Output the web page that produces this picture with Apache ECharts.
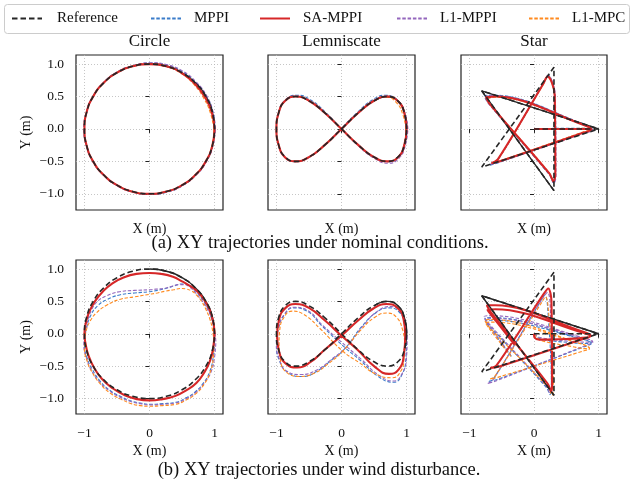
<!DOCTYPE html>
<html>
<head>
<meta charset="utf-8">
<script src="https://cdn.jsdelivr.net/npm/echarts@6/dist/echarts.min.js"></script>
<style>
  html, body { margin: 0; padding: 0; background: #fff; }
  #chart { width: 632px; height: 483px; }
</style>
</head>
<body>
<div id="chart"></div>
<script>
// tick values and labels
const xTicks = [-1, 0, 1]
const yTicks = [-1, -0.5, 0, 0.5, 1]
const panelTitles = ['Circle', 'Lemniscate', 'Star']
const captions = ['(a) XY trajectories under nominal conditions.', '(b) XY trajectories under wind disturbance.']
const methods = ['Reference', 'MPPI', 'SA-MPPI', 'L1-MPPI', 'L1-MPC']

// reference paths
const circleRef = [[1,0],[0.966,0.259],[0.866,0.5],[0.707,0.707],[0.5,0.866],[0.259,0.966],[0,1],[-0.259,0.966],[-0.5,0.866],[-0.707,0.707],[-0.866,0.5],[-0.966,0.259],[-1,0],[-0.966,-0.259],[-0.866,-0.5],[-0.707,-0.707],[-0.5,-0.866],[-0.259,-0.966],[0,-1],[0.259,-0.966],[0.5,-0.866],[0.707,-0.707],[0.866,-0.5],[0.966,-0.259],[1,0]]
const circleRefLap2 = [[1,0],[0.966,0.259],[0.866,0.5],[0.707,0.707],[0.5,0.866],[0.259,0.966],[0,1]]
const lemRef = [[1,0],[0.966,0.25],[0.866,0.433],[0.707,0.5],[0.5,0.433],[0.259,0.25],[0,0],[-0.259,-0.25],[-0.5,-0.433],[-0.707,-0.5],[-0.866,-0.433],[-0.966,-0.25],[-1,0],[-0.966,0.25],[-0.866,0.433],[-0.707,0.5],[-0.5,0.433],[-0.259,0.25],[0,0],[0.259,-0.25],[0.5,-0.433],[0.707,-0.5],[0.866,-0.433],[0.966,-0.25],[1,0]]
const lemRefLap2 = [[0.966,-0.25],[1,0],[0.966,0.25],[0.866,0.433],[0.707,0.5],[0.5,0.433]]
const starRef = [[0,0],[1,0],[-0.809,0.588],[0.309,-0.951],[0.309,0.951],[-0.809,-0.588],[1,0]]
const starRefLap2 = [[1,0],[-0.809,0.588],[0.309,-0.951]]

// nominal conditions
const circleNomMPPI = [[1.01,0],[0.975,0.262],[0.875,0.505],[0.715,0.715],[0.51,0.88],[0.265,0.985],[0.01,1.015],[-0.262,0.975],[-0.505,0.875],[-0.71,0.71],[-0.87,0.503],[-0.97,0.26],[-1.01,0],[-0.97,-0.26],[-0.87,-0.503],[-0.71,-0.71],[-0.503,-0.87],[-0.26,-0.97],[0.005,-1.01],[0.262,-0.975],[0.505,-0.875],[0.712,-0.712],[0.872,-0.503],[0.972,-0.26],[1.01,0]]
const circleNomSA = [[1.0,0],[0.958,0.256],[0.852,0.492],[0.697,0.697],[0.497,0.862],[0.258,0.965],[0,1.0],[-0.259,0.966],[-0.5,0.867],[-0.708,0.707],[-0.866,0.501],[-0.966,0.26],[-1.0,0],[-0.966,-0.259],[-0.867,-0.5],[-0.707,-0.708],[-0.5,-0.866],[-0.259,-0.967],[0,-1.0],[0.259,-0.966],[0.501,-0.866],[0.708,-0.707],[0.866,-0.5],[0.966,-0.259],[1.0,0]]
const circleNomL1MPPI = [[1.01,0.01],[0.975,0.265],[0.88,0.51],[0.72,0.72],[0.515,0.89],[0.27,0.99],[0.02,1.02],[-0.26,0.97],[-0.502,0.87],[-0.71,0.71],[-0.868,0.502],[-0.968,0.26],[-1.0,0],[-0.968,-0.26],[-0.87,-0.502],[-0.71,-0.71],[-0.505,-0.872],[-0.262,-0.972],[0,-1.01],[0.262,-0.972],[0.505,-0.875],[0.715,-0.712],[0.875,-0.505],[0.975,-0.262],[1.01,0.01]]
const circleNomL1MPC = [[0.99,0],[0.935,0.25],[0.83,0.48],[0.68,0.69],[0.49,0.855],[0.258,0.962],[0,1.0],[-0.26,0.966],[-0.5,0.866],[-0.707,0.707],[-0.866,0.5],[-0.966,0.259],[-1.0,0],[-0.966,-0.259],[-0.866,-0.5],[-0.707,-0.707],[-0.5,-0.866],[-0.259,-0.966],[0,-1.0],[0.259,-0.966],[0.5,-0.866],[0.707,-0.707],[0.862,-0.5],[0.96,-0.258],[0.99,0]]

const lemNomMPPI = [[1.01,0],[0.97,0.25],[0.86,0.44],[0.68,0.52],[0.48,0.45],[0.25,0.26],[0,0.01],[-0.26,-0.25],[-0.50,-0.44],[-0.71,-0.505],[-0.87,-0.44],[-0.965,-0.25],[-1.0,0],[-0.965,0.26],[-0.86,0.45],[-0.68,0.52],[-0.48,0.45],[-0.25,0.26],[0,0],[0.26,-0.25],[0.50,-0.44],[0.71,-0.505],[0.875,-0.44],[0.97,-0.25],[1.01,0]]
const lemNomSA = [[1.0,0],[0.965,0.25],[0.865,0.43],[0.705,0.50],[0.50,0.435],[0.26,0.25],[0,0],[-0.26,-0.25],[-0.50,-0.435],[-0.71,-0.50],[-0.87,-0.435],[-0.965,-0.25],[-1.0,0],[-0.965,0.25],[-0.865,0.435],[-0.70,0.50],[-0.50,0.435],[-0.26,0.25],[0,0],[0.26,-0.25],[0.50,-0.435],[0.71,-0.50],[0.87,-0.435],[0.965,-0.25],[1.0,0]]
const lemNomL1MPPI = [[1.02,0],[0.975,0.25],[0.87,0.435],[0.71,0.505],[0.50,0.44],[0.26,0.25],[0,0],[-0.26,-0.25],[-0.50,-0.435],[-0.71,-0.50],[-0.87,-0.435],[-0.965,-0.25],[-1.0,0],[-0.965,0.25],[-0.865,0.435],[-0.71,0.505],[-0.50,0.435],[-0.26,0.25],[0,0],[0.26,-0.26],[0.50,-0.45],[0.72,-0.53],[0.885,-0.45],[0.98,-0.26],[1.02,0]]
const lemNomL1MPC = [[0.99,0],[0.94,0.23],[0.84,0.41],[0.69,0.49],[0.49,0.43],[0.26,0.25],[0,0],[-0.26,-0.25],[-0.50,-0.435],[-0.71,-0.50],[-0.87,-0.435],[-0.965,-0.25],[-1.0,0],[-0.965,0.25],[-0.865,0.435],[-0.705,0.50],[-0.50,0.435],[-0.26,0.25],[0,0],[0.26,-0.25],[0.50,-0.435],[0.71,-0.50],[0.87,-0.435],[0.965,-0.25],[0.99,0]]

const starNomMPPI = [[0,0],[0.45,0.01],[0.80,0.01],[0.90,0.0],[0.79,0.07],[-0.62,0.52],[-0.77,0.51],[-0.71,0.40],[0.24,-0.71],[0.30,-0.83],[0.33,-0.72],[0.32,0.53],[0.22,0.83],[0.14,0.70],[-0.57,-0.49],[-0.69,-0.56],[-0.55,-0.52],[0.77,-0.06],[0.90,-0.01],[0.78,0.07],[-0.61,0.51],[-0.75,0.50]]
const starNomSA = [[0,0],[0.45,0],[0.80,0.0],[0.89,0.0],[0.78,0.06],[-0.60,0.50],[-0.74,0.49],[-0.69,0.39],[0.24,-0.69],[0.30,-0.81],[0.33,-0.70],[0.32,0.52],[0.21,0.81],[0.14,0.69],[-0.56,-0.47],[-0.66,-0.53],[-0.53,-0.50],[0.76,-0.06],[0.89,-0.01],[0.77,0.06],[-0.60,0.50],[-0.73,0.48]]
const starNomL1MPPI = [[0,0],[0.45,0],[0.81,0.0],[0.91,-0.01],[0.79,0.06],[-0.61,0.51],[-0.76,0.50],[-0.70,0.39],[0.25,-0.71],[0.31,-0.84],[0.34,-0.72],[0.33,0.52],[0.22,0.82],[0.14,0.69],[-0.56,-0.48],[-0.68,-0.55],[-0.54,-0.51],[0.77,-0.07],[0.91,-0.02],[0.78,0.06],[-0.61,0.51],[-0.75,0.49]]
const starNomL1MPC = [[0,0],[0.45,0],[0.80,0.01],[0.89,0.01],[0.77,0.07],[-0.60,0.49],[-0.73,0.47],[-0.68,0.38],[0.24,-0.68],[0.30,-0.80],[0.33,-0.69],[0.32,0.51],[0.21,0.80],[0.14,0.68],[-0.55,-0.46],[-0.65,-0.52],[-0.52,-0.49],[0.75,-0.05],[0.88,0.0],[0.76,0.07],[-0.60,0.49],[-0.72,0.47]]

// wind disturbance
const circleWindMPPI = [[1.0,-0.10],[0.99,0.08],[0.95,0.25],[0.89,0.41],[0.80,0.55],[0.71,0.66],[0.62,0.74],[0.50,0.77],[0.38,0.74],[0.25,0.70],[0.12,0.67],[0.0,0.65],[-0.23,0.63],[-0.46,0.60],[-0.65,0.53],[-0.80,0.43],[-0.90,0.29],[-0.96,0.12],[-0.99,-0.03],[-1.0,-0.17],[-0.96,-0.37],[-0.88,-0.55],[-0.76,-0.73],[-0.60,-0.88],[-0.44,-0.97],[-0.28,-1.04],[-0.14,-1.07],[0.0,-1.09],[0.20,-1.08],[0.40,-1.06],[0.56,-0.99],[0.70,-0.90],[0.83,-0.76],[0.92,-0.60],[0.98,-0.36],[1.0,-0.10]]
const circleWindSA = [[1.0,0.02],[0.98,0.18],[0.94,0.33],[0.88,0.46],[0.80,0.58],[0.72,0.67],[0.62,0.74],[0.50,0.81],[0.36,0.88],[0.18,0.925],[0.0,0.94],[-0.20,0.925],[-0.40,0.87],[-0.57,0.78],[-0.72,0.65],[-0.84,0.50],[-0.93,0.33],[-0.98,0.16],[-1.0,0.0],[-0.98,-0.17],[-0.94,-0.33],[-0.85,-0.53],[-0.73,-0.70],[-0.57,-0.84],[-0.38,-0.95],[-0.19,-1.01],[0.0,-1.03],[0.20,-1.01],[0.40,-0.96],[0.57,-0.87],[0.72,-0.76],[0.84,-0.60],[0.93,-0.42],[0.98,-0.21],[1.0,0.02]]
const circleWindL1MPPI = [[1.02,-0.12],[1.0,0.05],[0.96,0.22],[0.89,0.38],[0.80,0.52],[0.71,0.63],[0.62,0.72],[0.53,0.76],[0.45,0.76],[0.33,0.73],[0.22,0.70],[0.10,0.69],[0.0,0.68],[-0.23,0.67],[-0.46,0.65],[-0.65,0.59],[-0.80,0.50],[-0.89,0.37],[-0.95,0.20],[-0.99,0.02],[-1.01,-0.17],[-0.97,-0.37],[-0.90,-0.55],[-0.78,-0.73],[-0.62,-0.88],[-0.45,-0.98],[-0.28,-1.05],[-0.14,-1.08],[0.0,-1.10],[0.20,-1.09],[0.40,-1.07],[0.57,-1.00],[0.72,-0.90],[0.85,-0.75],[0.95,-0.58],[1.0,-0.36],[1.02,-0.12]]
const circleWindL1MPC = [[0.99,-0.12],[0.97,0.05],[0.93,0.22],[0.87,0.37],[0.80,0.50],[0.72,0.60],[0.65,0.66],[0.57,0.69],[0.50,0.70],[0.37,0.68],[0.25,0.66],[0.12,0.63],[0.0,0.61],[-0.23,0.57],[-0.46,0.53],[-0.66,0.44],[-0.82,0.32],[-0.91,0.20],[-0.97,0.06],[-0.99,-0.08],[-1.0,-0.22],[-0.96,-0.42],[-0.88,-0.60],[-0.76,-0.77],[-0.60,-0.92],[-0.44,-1.01],[-0.28,-1.08],[-0.14,-1.11],[0.0,-1.12],[0.20,-1.11],[0.40,-1.09],[0.57,-1.02],[0.72,-0.92],[0.84,-0.78],[0.93,-0.60],[0.98,-0.37],[0.99,-0.12]]

const lemWindMPPI = [[1.0,-0.08],[0.98,0.14],[0.89,0.33],[0.74,0.40],[0.55,0.34],[0.31,0.11],[0.06,-0.22],[-0.17,-0.42],[-0.38,-0.58],[-0.60,-0.66],[-0.82,-0.60],[-0.96,-0.40],[-1.0,-0.17],[-0.97,0.08],[-0.88,0.29],[-0.74,0.40],[-0.55,0.36],[-0.29,0.11],[0.06,-0.22],[0.30,-0.42],[0.55,-0.65],[0.80,-0.75],[0.93,-0.63],[0.99,-0.37],[1.0,-0.08]]
const lemWindSA = [[0.98,-0.02],[0.955,0.22],[0.86,0.40],[0.69,0.46],[0.49,0.39],[0.25,0.20],[0.0,-0.03],[-0.25,-0.24],[-0.48,-0.44],[-0.68,-0.52],[-0.86,-0.46],[-0.96,-0.27],[-0.99,-0.04],[-0.96,0.22],[-0.86,0.40],[-0.71,0.46],[-0.50,0.40],[-0.25,0.20],[0.0,-0.03],[0.25,-0.25],[0.50,-0.50],[0.73,-0.62],[0.88,-0.55],[0.96,-0.32],[0.98,-0.02]]
const lemWindL1MPPI = [[1.01,-0.07],[0.99,0.16],[0.90,0.35],[0.77,0.42],[0.57,0.36],[0.33,0.12],[0.08,-0.20],[-0.16,-0.40],[-0.38,-0.56],[-0.63,-0.63],[-0.84,-0.58],[-0.96,-0.38],[-1.0,-0.15],[-0.97,0.09],[-0.88,0.30],[-0.73,0.41],[-0.54,0.37],[-0.28,0.12],[0.08,-0.20],[0.31,-0.40],[0.56,-0.63],[0.80,-0.73],[0.93,-0.62],[1.0,-0.36],[1.01,-0.07]]
const lemWindL1MPC = [[0.97,-0.12],[0.94,0.06],[0.85,0.25],[0.70,0.32],[0.52,0.26],[0.28,0.04],[0.02,-0.27],[-0.20,-0.46],[-0.42,-0.61],[-0.64,-0.66],[-0.84,-0.60],[-0.94,-0.40],[-0.96,-0.15],[-0.95,0.05],[-0.88,0.26],[-0.76,0.35],[-0.58,0.30],[-0.32,0.07],[0.02,-0.27],[0.28,-0.45],[0.52,-0.62],[0.78,-0.68],[0.91,-0.58],[0.96,-0.38],[0.97,-0.12]]

const starWindMPPI = [[0,0],[0.1,-0.08],[0.6,-0.14],[0.82,-0.15],[0.89,-0.14],[0.78,-0.09],[-0.64,0.25],[-0.76,0.24],[-0.71,0.15],[0.19,-0.83],[0.25,-0.94],[0.27,-0.83],[0.21,0.42],[0.17,0.60],[0.10,0.50],[-0.63,-0.70],[-0.71,-0.74],[-0.58,-0.71],[0.78,-0.20],[0.89,-0.15],[0.77,-0.09],[-0.64,0.21],[-0.75,0.20],[-0.70,0.12],[-0.35,-0.35]]
const starWindSA = [[0,0],[0.01,-0.06],[0.08,-0.09],[0.50,-0.08],[0.80,-0.06],[0.88,-0.03],[0.76,0.03],[-0.60,0.44],[-0.73,0.44],[-0.68,0.35],[0.21,-0.77],[0.27,-0.89],[0.28,-0.78],[0.27,0.50],[0.22,0.70],[0.14,0.60],[-0.58,-0.49],[-0.68,-0.53],[-0.55,-0.51],[0.76,-0.08],[0.87,-0.04],[0.75,0.02],[-0.60,0.38],[-0.72,0.37],[-0.66,0.29],[-0.30,-0.17]]
const starWindL1MPPI = [[0,0],[0.1,-0.06],[0.6,-0.12],[0.84,-0.13],[0.91,-0.12],[0.80,-0.07],[-0.65,0.28],[-0.77,0.27],[-0.72,0.18],[0.19,-0.81],[0.25,-0.92],[0.27,-0.81],[0.25,0.45],[0.21,0.64],[0.13,0.54],[-0.64,-0.72],[-0.72,-0.77],[-0.59,-0.73],[0.80,-0.18],[0.91,-0.13],[0.79,-0.07],[-0.65,0.24],[-0.76,0.23],[-0.71,0.15],[-0.36,-0.33]]
const starWindL1MPC = [[0,0],[0.1,-0.10],[0.6,-0.20],[0.79,-0.23],[0.86,-0.22],[0.75,-0.16],[-0.64,0.22],[-0.76,0.21],[-0.71,0.12],[0.22,-0.83],[0.28,-0.95],[0.30,-0.84],[0.22,0.40],[0.18,0.57],[0.11,0.47],[-0.60,-0.65],[-0.68,-0.70],[-0.55,-0.67],[0.75,-0.27],[0.86,-0.23],[0.74,-0.16],[-0.64,0.18],[-0.75,0.17],[-0.70,0.09],[-0.35,-0.36]]

const FONT = 'Liberation Serif, Times New Roman, serif'

const lineStyles = {
  'Reference': { color: '#262626', width: 1.6, type: [5.5, 3] },
  'MPPI': { color: '#3b7cc9', width: 1.1, type: [3.5, 1.8] },
  'SA-MPPI': { color: '#d62728', width: 2.1, type: 'solid' },
  'L1-MPPI': { color: '#9467bd', width: 1.1, type: [3.5, 1.8] },
  'L1-MPC': { color: '#ff8a1f', width: 1.1, type: [3.5, 1.8] }
}

// one entry per subplot: [ref, refLap2, mppi, sa, l1mppi, l1mpc, smooth, refSmooth]
const panels = [
  [circleRef, circleRefLap2, circleNomMPPI, circleNomSA, circleNomL1MPPI, circleNomL1MPC, 0.5, 0.5],
  [lemRef, lemRefLap2, lemNomMPPI, lemNomSA, lemNomL1MPPI, lemNomL1MPC, 0.5, 0.5],
  [starRef, starRefLap2, starNomMPPI, starNomSA, starNomL1MPPI, starNomL1MPC, 0.35, false],
  [circleRef, circleRefLap2, circleWindMPPI, circleWindSA, circleWindL1MPPI, circleWindL1MPC, 0.5, 0.5],
  [lemRef, lemRefLap2, lemWindMPPI, lemWindSA, lemWindL1MPPI, lemWindL1MPC, 0.5, 0.5],
  [starRef, starRefLap2, starWindMPPI, starWindSA, starWindL1MPPI, starWindL1MPC, 0.35, false]
]

const gridBoxes = [
  { left: 76, top: 55, width: 147, height: 155 },
  { left: 268, top: 55, width: 147, height: 155 },
  { left: 461, top: 55, width: 146, height: 155 },
  { left: 76, top: 260, width: 147, height: 154 },
  { left: 268, top: 260, width: 147, height: 154 },
  { left: 461, top: 260, width: 146, height: 154 }
]

const minus = (s) => s.replace('-', '\u2212')

const chart = echarts.init(document.getElementById('chart'))

const grid = gridBoxes.map(b => ({ ...b, show: true, borderColor: '#222', borderWidth: 1.2, containLabel: false }))

const splitLine = { show: true, lineStyle: { type: [1, 2], color: '#b8b8b8', width: 0.8 } }
const tick = { show: true, length: 4, lineStyle: { color: '#222', width: 1 } }

const xAxis = gridBoxes.map((b, i) => {
  const bottomRow = i >= 3
  return {
    type: 'value', gridIndex: i, min: -1.13, max: 1.13,
    axisLine: { show: false },
    axisTick: { ...tick, customValues: xTicks },
    axisLabel: {
      show: bottomRow, customValues: xTicks, margin: 12,
      fontFamily: FONT, fontSize: 13.5, color: '#111',
      formatter: v => minus(String(v))
    },
    splitLine,
    name: 'X (m)', nameLocation: 'middle', nameGap: bottomRow ? 30 : 12,
    nameTextStyle: { fontFamily: FONT, fontSize: 14, color: '#111' }
  }
})

const yAxis = gridBoxes.map((b, i) => {
  const leftCol = i % 3 === 0
  const bottomRow = i >= 3
  return {
    type: 'value', gridIndex: i, min: bottomRow ? -1.24 : -1.25, max: 1.14,
    axisLine: { show: false },
    axisTick: { ...tick, customValues: yTicks },
    axisLabel: {
      show: leftCol, customValues: yTicks, margin: 12,
      fontFamily: FONT, fontSize: 13.5, color: '#111',
      formatter: v => minus(v.toFixed(1))
    },
    splitLine,
    name: leftCol ? 'Y (m)' : '', nameLocation: 'middle', nameGap: 43, nameRotate: 90,
    nameTextStyle: { fontFamily: FONT, fontSize: 14, color: '#111' }
  }
})

function line(name, data, i, smooth, z, styleOverride) {
  return {
    type: 'line', name, data, xAxisIndex: i, yAxisIndex: i,
    symbol: 'none', smooth, animation: false, z,
    lineStyle: { ...lineStyles[name], ...(styleOverride || {}) },
    itemStyle: { color: lineStyles[name].color },
    emphasis: { disabled: true }
  }
}

const series = []
panels.forEach((p, i) => {
  const [ref, lap2, mppi, sa, l1mppi, l1mpc, sm, refSm] = p
  // dashed reference first so the legend takes its icon
  series.push(line('Reference', ref, i, refSm, 5))
  series.push(line('MPPI', mppi, i, sm, 2))
  series.push(line('L1-MPPI', l1mppi, i, sm, 2))
  series.push(line('L1-MPC', l1mpc, i, sm, 2))
  series.push(line('Reference', lap2, i, refSm, 3, { type: 'solid', width: 1.4 }))
  series.push(line('SA-MPPI', sa, i, sm, 4))
})

// legend: one component per entry, laid out along the top box
const legendLefts = [11, 150, 259, 396, 528]
const legend = methods.map((m, k) => ({
  data: [m], left: legendLefts[k], top: 11, padding: 0,
  itemWidth: 30, itemHeight: 14, selectedMode: false,
  itemStyle: { opacity: 0, borderWidth: 0 },
  textStyle: { fontFamily: FONT, fontSize: 15, color: '#111', padding: [0, 0, 0, k === 0 ? 10 : 8] }
}))

const graphic = [
  { type: 'rect', left: 4, top: 4, shape: { width: 625, height: 29, r: 3 }, style: { fill: '#fff', stroke: '#cccccc', lineWidth: 1 }, z: -1 }
]
panelTitles.forEach((t, k) => {
  const b = gridBoxes[k]
  graphic.push({ type: 'text', x: b.left + b.width / 2, y: 42, style: { text: t, fontFamily: FONT, fontSize: 17, fill: '#111', textAlign: 'center', textVerticalAlign: 'middle' } })
})
graphic.push({ type: 'text', x: 320, y: 243, style: { text: captions[0], fontFamily: FONT, fontSize: 18.5, fill: '#111', textAlign: 'center', textVerticalAlign: 'middle' } })
graphic.push({ type: 'text', x: 319, y: 470, style: { text: captions[1], fontFamily: FONT, fontSize: 18.5, fill: '#111', textAlign: 'center', textVerticalAlign: 'middle' } })

chart.setOption({
  animation: false,
  backgroundColor: '#fff',
  grid, xAxis, yAxis, series, legend, graphic
})
</script>
</body>
</html>
